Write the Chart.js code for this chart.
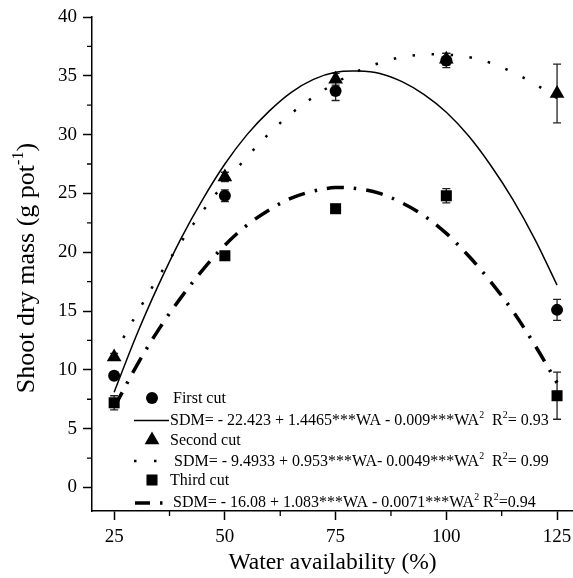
<!DOCTYPE html>
<html>
<head>
<meta charset="utf-8">
<script src="https://cdn.jsdelivr.net/npm/chart.js@4.4.1/dist/chart.umd.min.js"></script>
<style>
html, body { margin: 0; padding: 0; background: #fff; }
</style>
</head>
<body>
<canvas id="chart" width="573" height="578"></canvas>
<script>
// measured points (water availability %)
const waterLevels = [25, 50, 75, 100, 125];
const firstCut = [9.5, 24.8, 33.7, 36.3, 15.1];
const firstErr = [0.3, 0.5, 0.8, 0.6, 0.9];
const secondCut = [11.1, 26.4, 34.7, 36.4, 33.5];
const secondErr = [0.3, 0.4, 0.5, 0.5, 2.5];
const thirdCut = [7.2, 19.7, 23.7, 24.8, 7.8];
const thirdErr = [0.6, 0.3, 0.3, 0.6, 2.0];

// fitted curves, every 5 %
const fitX = [25, 30, 35, 40, 45, 50, 55, 60, 65, 70, 75, 80, 85, 90, 95, 100, 105, 110, 115, 120, 125];
const firstFit = [8.1, 12.9, 17.2, 21.1, 24.5, 27.5, 30.0, 32.0, 33.6, 34.7, 35.3, 35.4, 35.2, 34.5, 33.4, 31.9, 29.9, 27.4, 24.5, 21.1, 17.2];
const secondFit = [11.3, 14.7, 17.9, 20.8, 23.5, 25.9, 28.1, 30.1, 31.8, 33.2, 34.4, 35.4, 36.1, 36.6, 36.8, 36.8, 36.6, 36.1, 35.3, 34.3, 33.1];
const thirdFit = [6.8, 10.3, 13.4, 16.1, 18.5, 20.6, 22.3, 23.6, 24.6, 25.2, 25.5, 25.4, 25.0, 24.2, 23.1, 21.6, 19.7, 17.5, 15.0, 12.1, 8.9];

// axes
const xTicks = [25, 50, 75, 100, 125];
const xMinorTicks = [37.5, 62.5, 87.5, 112.5];
const yTicks = [0, 5, 10, 15, 20, 25, 30, 35, 40];
const yMinorTicks = [2.5, 7.5, 12.5, 17.5, 22.5, 27.5, 32.5, 37.5];

const cutLabels = ['First cut', 'Second cut', 'Third cut'];
const equations = [
    [['SDM= - 22.423 + 1.4465***WA - 0.009***WA'], ['2', 1], ['  R'], ['2', 1], ['= 0.93']],
    [['SDM= - 9.4933 + 0.953***WA- 0.0049***WA'], ['2', 1], ['  R'], ['2', 1], ['= 0.99']],
    [['SDM= - 16.08 + 1.083***WA - 0.0071***WA'], ['2', 1], [' R'], ['2', 1], ['=0.94']]
];
const yTitle = [['Shoot dry mass (g pot'], ['-1', 1], [')']];
const xTitle = 'Water availability (%)';

const FONT = "'Liberation Serif', 'Times New Roman', serif";
const toXY = (xs, ys) => xs.map((x, i) => ({ x: x, y: ys[i] }));

// draw text pieces, superscripts flagged with 1
function drawRich(ctx, parts, x, y, size) {
    let cx = x;
    parts.forEach(p => {
        const sup = p[1] === 1;
        ctx.font = (sup ? size * 0.62 : size) + 'px ' + FONT;
        ctx.fillText(p[0], cx, sup ? y - size * 0.42 : y);
        cx += ctx.measureText(p[0]).width;
    });
    return cx - x;
}
function richWidth(ctx, parts, size) {
    let w = 0;
    parts.forEach(p => {
        ctx.font = (p[1] === 1 ? size * 0.62 : size) + 'px ' + FONT;
        w += ctx.measureText(p[0]).width;
    });
    return w;
}

const errorBars = {
    id: 'errorBars',
    beforeDatasetsDraw(chart) {
        const { ctx, scales: { x, y } } = chart;
        const sets = [[firstCut, firstErr], [secondCut, secondErr], [thirdCut, thirdErr]];
        ctx.save();
        ctx.strokeStyle = '#222';
        ctx.lineWidth = 1.3;
        sets.forEach(([vals, errs]) => {
            vals.forEach((v, i) => {
                const px = x.getPixelForValue(waterLevels[i]);
                const top = y.getPixelForValue(v + errs[i]);
                const bot = y.getPixelForValue(v - errs[i]);
                ctx.beginPath();
                ctx.moveTo(px, top); ctx.lineTo(px, bot);
                ctx.moveTo(px - 4, top); ctx.lineTo(px + 4, top);
                ctx.moveTo(px - 4, bot); ctx.lineTo(px + 4, bot);
                ctx.stroke();
            });
        });
        ctx.restore();
    }
};

const minorTicks = {
    id: 'minorTicks',
    afterDraw(chart) {
        const { ctx, chartArea, scales: { x, y } } = chart;
        ctx.save();
        ctx.strokeStyle = '#000';
        ctx.lineWidth = 1.3;
        ctx.beginPath();
        xMinorTicks.forEach(v => {
            const px = x.getPixelForValue(v);
            ctx.moveTo(px, chartArea.bottom);
            ctx.lineTo(px, chartArea.bottom + 5);
        });
        yMinorTicks.forEach(v => {
            const py = y.getPixelForValue(v);
            ctx.moveTo(chartArea.left - 5, py);
            ctx.lineTo(chartArea.left, py);
        });
        ctx.stroke();
        ctx.restore();
    }
};

const titlesAndLegend = {
    id: 'titlesAndLegend',
    afterDraw(chart) {
        const ctx = chart.ctx;
        ctx.save();
        ctx.fillStyle = '#000';
        ctx.textBaseline = 'alphabetic';
        ctx.textAlign = 'left';

        // y title, rotated
        ctx.save();
        ctx.translate(34, 268);
        ctx.rotate(-Math.PI / 2);
        const tw = richWidth(ctx, yTitle, 26);
        drawRich(ctx, yTitle, -tw / 2, 0, 26);
        ctx.restore();

        // legend
        const styles = ['circle', 'triangle', 'rect'];
        const radii = [6, 8.5, 7.8];
        const markerY = [398, 440, 480];
        const labelX = [173, 170, 170];
        const eqY = [425, 466, 507];
        const eqX = [170, 174, 173];
        for (let i = 0; i < 3; i++) {
            ctx.fillStyle = '#000';
            Chart.helpers.drawPoint(ctx, { pointStyle: styles[i], radius: radii[i], rotation: 0, borderWidth: 0 }, 152, markerY[i]);
            ctx.font = '16px ' + FONT;
            ctx.fillText(cutLabels[i], labelX[i], markerY[i] + 5);
            drawRich(ctx, equations[i], eqX[i], eqY[i], 16);
        }
        ctx.strokeStyle = '#000';
        ctx.lineCap = 'butt';
        // solid sample
        ctx.lineWidth = 1.5;
        ctx.setLineDash([]);
        ctx.beginPath(); ctx.moveTo(134, 420.5); ctx.lineTo(169, 420.5); ctx.stroke();
        // dotted sample
        ctx.lineWidth = 2.5;
        ctx.setLineDash([2.5, 17.5]);
        ctx.beginPath(); ctx.moveTo(134, 461); ctx.lineTo(158, 461); ctx.stroke();
        // dash-dot sample
        ctx.lineWidth = 3.5;
        ctx.setLineDash([15, 10, 2.5, 10]);
        ctx.beginPath(); ctx.moveTo(135, 503); ctx.lineTo(165, 503); ctx.stroke();
        ctx.restore();
    }
};

const markerSet = (label, data, style, r) => ({
    type: 'scatter', label: label, data: toXY(waterLevels, data),
    pointStyle: style, pointRadius: r, pointBackgroundColor: '#000',
    pointBorderColor: '#000', pointBorderWidth: 0, showLine: false
});
const curveSet = (label, data, width, dash) => ({
    type: 'line', label: label, data: toXY(fitX, data),
    borderColor: '#000', borderWidth: width, borderDash: dash,
    pointRadius: 0, tension: 0.35, fill: false, borderCapStyle: 'butt'
});

const chart = new Chart(document.getElementById('chart'), {
    data: {
        datasets: [
            markerSet(cutLabels[0], firstCut, 'circle', 6),
            markerSet(cutLabels[1], secondCut, 'triangle', 8.5),
            markerSet(cutLabels[2], thirdCut, 'rect', 7.8),
            curveSet('fit1', firstFit, 1.5, []),
            curveSet('fit2', secondFit, 2.5, [2.5, 16.5]),
            curveSet('fit3', thirdFit, 3.5, [17, 10, 2.5, 10])
        ]
    },
    options: {
        responsive: false,
        animation: false,
        layout: { autoPadding: false, padding: { top: 17, left: 0, right: 0, bottom: 0 } },
        plugins: { legend: { display: false }, tooltip: { enabled: false } },
        scales: {
            x: {
                type: 'linear', position: 'bottom', min: 20, max: 128.6,
                afterBuildTicks: s => { s.ticks = xTicks.map(v => ({ value: v })); },
                afterFit: s => { s.height = 67; s.paddingLeft = 0; s.paddingRight = 0; },
                border: { display: true, color: '#000', width: 1.5 },
                grid: { drawOnChartArea: false, drawTicks: true, tickLength: 9, tickColor: '#000', tickWidth: 1.5 },
                ticks: { color: '#000', font: { family: FONT, size: 19 }, padding: 6, maxRotation: 0 },
                title: { display: true, text: xTitle, color: '#000', font: { family: FONT, size: 23.5 }, padding: { top: 0, bottom: 1 } }
            },
            y: {
                type: 'linear', position: 'left', min: -2, max: 40,
                afterBuildTicks: s => { s.ticks = yTicks.map(v => ({ value: v })); },
                afterFit: s => { s.width = 92; s.paddingTop = 0; s.paddingBottom = 0; },
                border: { display: true, color: '#000', width: 1.5 },
                grid: { drawOnChartArea: false, drawTicks: true, tickLength: 9, tickColor: '#000', tickWidth: 1.5 },
                ticks: { color: '#000', font: { family: FONT, size: 19 }, padding: 6 }
            }
        }
    },
    plugins: [errorBars, minorTicks, titlesAndLegend]
});
</script>
</body>
</html>
